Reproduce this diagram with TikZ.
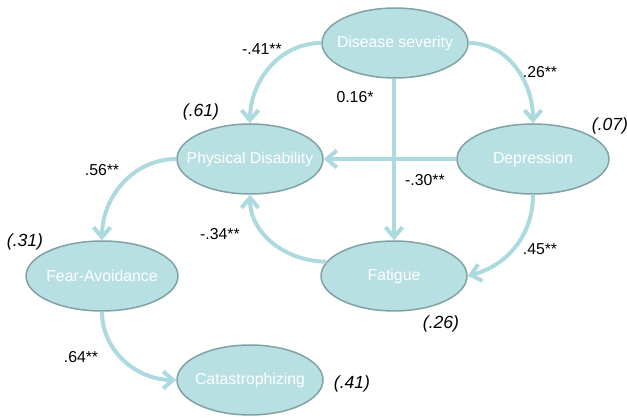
\documentclass[tikz,border=0pt]{standalone}
\usepackage{fontspec}
\setmainfont{Liberation Sans}
\usepackage{tikz}
\usetikzlibrary{arrows.meta,shapes.geometric}
\definecolor{nodefill}{HTML}{B8DFE2}
\definecolor{nodeline}{HTML}{7FA2A5}
\definecolor{pathline}{HTML}{ACDADF}
\newcommand\flatlabel[1]{\makebox[0pt]{#1}}
\tikzset{
  factor/.style={ellipse, draw=nodeline, fill=nodefill, line width=0.03cm, inner sep=0pt,
    minimum width=2.92cm, minimum height=1.4cm, text=white},
  path/.style={line width=0.08cm, color=pathline, -{Straight Barb[length=2mm,width=3.4mm]}},
  coef/.style={text=black},
  rsq/.style={text=black, font=\itshape}
}
\begin{document}
\begin{tikzpicture}[x=0.02cm, y=0.02cm, font=\fontsize{9}{11}\selectfont]
			%%%%% START %%%%%
			\useasboundingbox (0, 0) rectangle (627, 418);
			
			\node[factor] (ds) at (395, 375) {\flatlabel{Disease severity}};
			\node[factor] (pd) at (250, 259) {\flatlabel{Physical Disability}};
			\node[factor, minimum width=3.04cm] (dep) at (533, 259) {\flatlabel{Depression}};
			\node[factor] (fat) at (394, 142) {\flatlabel{Fatigue}};
			\node[factor, minimum width=3.04cm] (fa) at (102, 142) {\flatlabel{Fear-Avoidance}};
			\node[factor] (cat) at (250, 38) {\flatlabel{Catastrophizing}};
			
			\draw[path] (ds.west) to[out=180, in=90] (pd.north);
			\draw[path] (ds.east) to[out=0, in=90] (dep.north);
			\draw[path] (fat.north |- ds.south) -- (fat.north);
			\draw[path] (dep.west) -- (pd.east);
			\draw[path] (dep.south) to[out=-90, in=15] (fat.east);
			\draw[path] (fat.168) to[out=180, in=-90] (pd.south);
			\draw[path] (pd.west) to[out=180, in=90] (fa.north);
			\draw[path] (fa.south) to[out=-90, in=180] (cat.west);
			
			\node[coef] (c1) at (262, 369) {-.41**};
			\node[coef] (c2) at (540, 346) {.26**};
			\node[coef] (c3) at (355, 321) {0.16*};
			\node[coef] (c4) at (425, 238) {-.30**};
			\node[coef] (c5) at (540, 169) {.45**};
			\node[coef] (c6) at (220, 184) {-.34**};
			\node[coef] (c7) at (102, 248) {.56**};
			\node[coef] (c8) at (81, 61) {.64**};
			
			\node[rsq] (r1) at (201, 306) {(.61)};
			\node[rsq] (r2) at (610, 292) {(.07)};
			\node[rsq] (r3) at (25, 176) {(.31)};
			\node[rsq] (r4) at (441, 94) {(.26)};
			\node[rsq] (r5) at (352, 34) {(.41)};
			%%%%% END %%%%%
		\end{tikzpicture}
\end{document}
